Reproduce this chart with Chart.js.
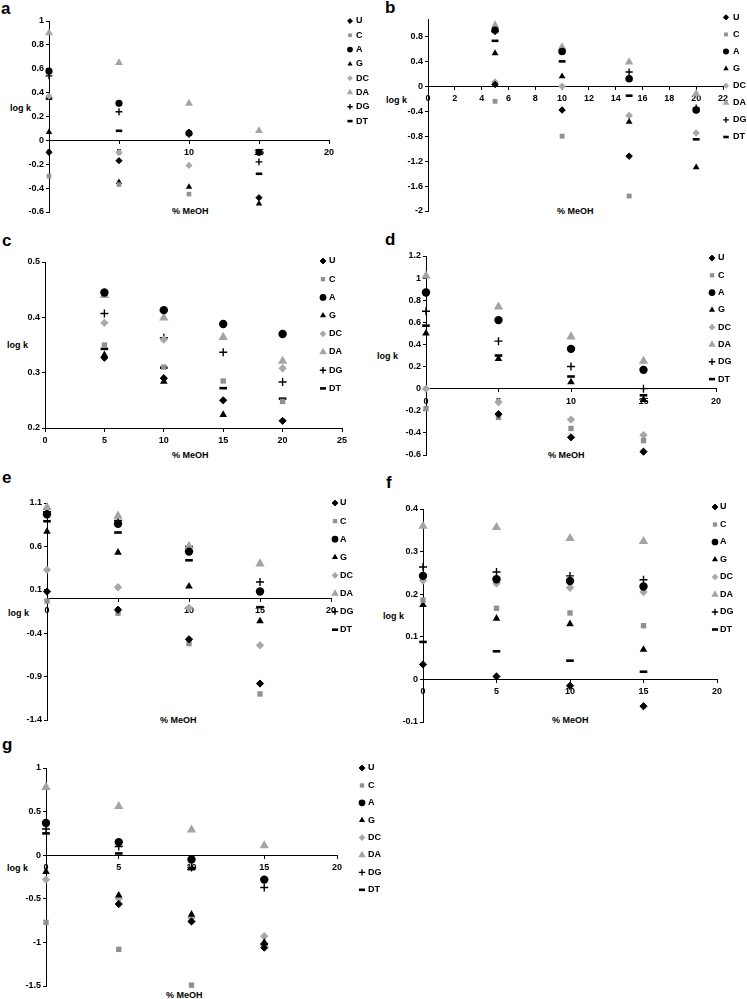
<!DOCTYPE html>
<html>
<head>
<meta charset="utf-8">
<script src="https://cdn.jsdelivr.net/npm/chart.js@4.4.1/dist/chart.umd.min.js"></script>
<style>
  body { margin: 0; width: 747px; height: 999px; background: #fff; position: relative; overflow: hidden;
         font-family: "Liberation Sans", Arial, sans-serif; }
  canvas { position: absolute; }
  .t { position: absolute; font-weight: bold; font-size: 9px; line-height: 1; color: #000; white-space: nowrap; }
  .p { position: absolute; font-weight: bold; font-size: 17px; line-height: 1; color: #000; }
</style>
</head>
<body>

<div class="p" style="left:1px;top:0px">a</div>
<div class="p" style="left:385px;top:-1px">b</div>
<div class="p" style="left:2px;top:232px">c</div>
<div class="p" style="left:385px;top:231px">d</div>
<div class="p" style="left:2px;top:469px">e</div>
<div class="p" style="left:386px;top:474px">f</div>
<div class="p" style="left:2px;top:736px">g</div>

<div class="t" style="left:10px;top:104px">log k</div>
<div class="t" style="left:172px;top:207px">% MeOH</div>
<div class="t" style="left:386px;top:96px">log k</div>
<div class="t" style="left:557px;top:207px">% MeOH</div>
<div class="t" style="left:7px;top:341px">log k</div>
<div class="t" style="left:172px;top:451px">% MeOH</div>
<div class="t" style="left:377px;top:352px">log k</div>
<div class="t" style="left:548px;top:451px">% MeOH</div>
<div class="t" style="left:8px;top:609px">log k</div>
<div class="t" style="left:160px;top:716px">% MeOH</div>
<div class="t" style="left:383px;top:612px">log k</div>
<div class="t" style="left:552px;top:716px">% MeOH</div>
<div class="t" style="left:7px;top:864px">log k</div>
<div class="t" style="left:166px;top:991px">% MeOH</div>

<canvas id="chartA"></canvas>
<canvas id="chartB"></canvas>
<canvas id="chartC"></canvas>
<canvas id="chartD"></canvas>
<canvas id="chartE"></canvas>
<canvas id="chartF"></canvas>
<canvas id="chartG"></canvas>

<script>
// series order in every panel
const seriesNames = ["U", "C", "A", "G", "DC", "DA", "DG", "DT"];

// % MeOH levels
const meohFrom0 = [0, 5, 10, 15];
const meohFrom5 = [5, 10, 15, 20];

// log k values, one row per series (U, C, A, G, DC, DA, DG, DT)
const logkA = [
  [-0.1, -0.17, 0.07, -0.48],
  [-0.3, -0.37, -0.45, null],
  [0.58, 0.31, 0.06, -0.1],
  [0.07, -0.35, -0.39, -0.53],
  [0.37, -0.1, -0.21, -0.1],
  [0.9, 0.65, 0.31, 0.08],
  [0.54, 0.24, 0.05, -0.18],
  [0.35, 0.08, null, -0.28]
];
const logkB = [
  [0.03, -0.38, -1.12, -0.38],
  [-0.24, -0.8, -1.76, null],
  [0.9, 0.56, 0.12, -0.38],
  [0.53, 0.16, -0.57, -1.3],
  [0.07, 0.0, -0.47, -0.75],
  [0.98, 0.63, 0.39, -0.12],
  [0.88, 0.58, 0.23, -0.35],
  [0.73, 0.4, -0.15, -0.85]
];
const logkC = [
  [0.327, 0.29, 0.25, 0.213],
  [0.35, 0.31, 0.285, 0.248],
  [0.445, 0.413, 0.388, 0.37],
  [0.332, 0.284, 0.224, null],
  [0.39, 0.36, null, 0.308],
  [0.44, 0.399, 0.364, 0.321],
  [0.407, 0.363, 0.337, 0.283],
  [0.343, 0.309, 0.272, 0.253]
];
const logkD = [
  [null, -0.23, -0.44, -0.57],
  [-0.18, -0.26, -0.36, -0.47],
  [0.87, 0.62, 0.36, 0.17],
  [0.5, 0.27, 0.06, -0.1],
  [0.0, -0.12, -0.28, -0.42],
  [1.02, 0.74, 0.47, 0.25],
  [0.7, 0.43, 0.2, 0.0],
  [0.57, 0.3, 0.11, -0.06]
];
const logkE = [
  [0.08, -0.13, -0.47, -0.98],
  [-0.03, -0.17, -0.52, -1.1],
  [0.97, 0.86, 0.54, 0.08],
  [0.77, 0.53, 0.14, -0.26],
  [0.33, 0.13, -0.11, -0.54],
  [1.05, 0.95, 0.6, 0.4],
  [1.0, 0.9, 0.6, 0.19],
  [0.89, 0.76, 0.44, -0.1]
];
const logkF = [
  [0.035, 0.007, -0.015, -0.063],
  [0.186, 0.167, 0.156, 0.126],
  [0.243, 0.235, 0.231, 0.218],
  [0.175, 0.143, 0.13, 0.07],
  [0.232, 0.225, 0.215, 0.205],
  [0.36, 0.357, 0.331, 0.324],
  [0.264, 0.252, 0.243, 0.234],
  [0.088, 0.066, 0.044, 0.018]
];
const logkG = [
  [null, -0.56, -0.76, -1.06],
  [-0.77, -1.08, -1.49, null],
  [0.37, 0.15, -0.05, -0.28],
  [-0.19, -0.46, -0.68, -1.0],
  [-0.28, -0.5, -0.72, -0.93],
  [0.78, 0.56, 0.29, 0.11],
  [0.3, 0.1, -0.14, -0.37],
  [0.25, 0.02, -0.16, -1.02]
];

// tick labels
const xTicks20 = [0, 5, 10, 15, 20];
const xTicksB = [0, 2, 4, 6, 8, 10, 12, 14, 16, 18, 20, 22];
const xTicksC = [0, 5, 10, 15, 20, 25];
const yTicksA = [-0.6, -0.4, -0.2, 0, 0.2, 0.4, 0.6, 0.8, 1];
const yTicksB = [-2, -1.6, -1.2, -0.8, -0.4, 0, 0.4, 0.8];
const yTicksC = [0.2, 0.3, 0.4, 0.5];
const yTicksD = [-0.6, -0.4, -0.2, 0, 0.2, 0.4, 0.6, 0.8, 1, 1.2];
const yTicksE = [-1.4, -0.9, -0.4, 0.1, 0.6, 1.1];
const yTicksF = [-0.1, 0, 0.1, 0.2, 0.3, 0.4];
const yTicksG = [-1.5, -1, -0.5, 0, 0.5, 1];

// marker look per series
const markerStyles = [
  { shape: "rectRot", r: 3.6, color: "#000", bw: 1 },
  { shape: "rect", r: 3.8, color: "#909090", bw: 0 },
  { shape: "circle", r: 4.2, color: "#000", bw: 0 },
  { shape: "triangle", r: 4.4, color: "#000", bw: 0 },
  { shape: "rectRot", r: 4.2, color: "#a8a8a8", bw: 0 },
  { shape: "triangle", r: 5.4, color: "#a4a4a4", bw: 0 },
  { shape: "cross", r: 4, color: "#000", bw: 1.4 },
  { shape: "line", r: 3.8, color: "#000", bw: 2.6 }
];

const FONT = { family: '"Liberation Sans", Arial, sans-serif', size: 9, weight: "bold" };
const YW = 36;

function sideLegend(box, lg, scale) {
  return {
    id: "sideLegend",
    afterDraw(chart) {
      const ctx = chart.ctx;
      ctx.save();
      ctx.font = 'bold 9px "Liberation Sans", Arial, sans-serif';
      ctx.textBaseline = "middle";
      chart.data.datasets.forEach((ds, i) => {
        const y = lg.y + i * lg.dy - box.y;
        const x = lg.x - box.x;
        ctx.fillStyle = ds.pointBackgroundColor;
        ctx.strokeStyle = ds.pointBorderColor;
        ctx.lineWidth = ds.pointBorderWidth;
        Chart.helpers.drawPoint(ctx, {
          pointStyle: ds.pointStyle, rotation: 0,
          radius: ds.pointRadius * 0.8, borderWidth: ds.pointBorderWidth
        }, x, y);
        ctx.fillStyle = "#000";
        ctx.fillText(ds.label, lg.tx - box.x, y);
      });
      ctx.restore();
    }
  };
}

function makePanel(id, xs, rows, xTicks, yTicks, xr, yr, crossY, box, area, lg, scale) {
  const canvas = document.getElementById(id);
  canvas.width = box.w;
  canvas.height = box.h;
  canvas.style.left = box.x + "px";
  canvas.style.top = box.y + "px";

  const datasets = rows.map((vals, i) => {
    const st = markerStyles[i];
    return {
      label: seriesNames[i],
      data: xs.map((x, j) => (vals[j] == null ? null : { x: x, y: vals[j] })).filter(Boolean),
      pointStyle: st.shape,
      pointRadius: st.r * scale,
      pointHoverRadius: st.r * scale,
      pointBackgroundColor: st.color,
      pointBorderColor: st.color,
      pointBorderWidth: st.bw,
      showLine: false,
      clip: false
    };
  });

  const axisCommon = {
    type: "linear",
    grid: { display: true, drawOnChartArea: false, drawTicks: true, tickLength: 3, color: "#000" },
    border: { display: true, color: "#000", width: 1 },
    ticks: { font: FONT, color: "#000", autoSkip: false, maxRotation: 0, callback: (v) => String(v) }
  };

  return new Chart(canvas, {
    type: "scatter",
    data: { datasets: datasets },
    options: {
      responsive: false,
      animation: false,
      layout: {
        padding: {
          left: area.l - box.x - YW,
          top: area.t - box.y,
          right: box.x + box.w - area.r,
          bottom: box.y + box.h - area.b
        }
      },
      plugins: { legend: { display: false }, tooltip: { enabled: false } },
      scales: {
        x: Object.assign({}, axisCommon, {
          min: xr[0], max: xr[1],
          position: { y: crossY },
          afterBuildTicks: (s) => { s.ticks = xTicks.map((v) => ({ value: v })); },
          ticks: Object.assign({}, axisCommon.ticks, { padding: 4 })
        }),
        y: Object.assign({}, axisCommon, {
          min: yr[0], max: yr[1],
          position: "left",
          afterBuildTicks: (s) => { s.ticks = yTicks.map((v) => ({ value: v })); },
          afterFit: (s) => { s.width = YW; },
          ticks: Object.assign({}, axisCommon.ticks, { padding: 2 })
        })
      }
    },
    plugins: [sideLegend(box, lg, scale)]
  });
}

makePanel("chartA", meohFrom0, logkA, xTicks20, yTicksA, [0, 20], [-0.6, 1], 0,
  { x: 0, y: 0, w: 373, h: 232 }, { l: 49, t: 21, r: 329, b: 212 },
  { x: 350, tx: 356, y: 21, dy: 14.3 }, 0.85);

makePanel("chartB", meohFrom5, logkB, xTicksB, yTicksB, [0, 22], [-2, 1.08], 0,
  { x: 373, y: 0, w: 374, h: 232 }, { l: 428, t: 19, r: 723, b: 211 },
  { x: 726, tx: 733, y: 17.3, dy: 17.1 }, 0.9);

makePanel("chartC", meohFrom5, logkC, xTicksC, yTicksC, [0, 25], [0.2, 0.5], 0.2,
  { x: 0, y: 232, w: 373, h: 236 }, { l: 45, t: 262, r: 342, b: 428 },
  { x: 323, tx: 329, y: 261, dy: 18.2 }, 1);

makePanel("chartD", meohFrom0, logkD, xTicks20, yTicksD, [0, 20], [-0.6, 1.2], 0,
  { x: 373, y: 232, w: 374, h: 236 }, { l: 426, t: 256, r: 716, b: 455 },
  { x: 712, tx: 718, y: 258, dy: 17.3 }, 1);

makePanel("chartE", meohFrom0, logkE, xTicks20, yTicksE, [0, 20], [-1.4, 1.1], 0,
  { x: 0, y: 468, w: 373, h: 262 }, { l: 47, t: 503, r: 331, b: 720 },
  { x: 335, tx: 340, y: 503, dy: 18.1 }, 1);

makePanel("chartF", meohFrom0, logkF, xTicks20, yTicksF, [0, 20], [-0.1, 0.4], 0,
  { x: 373, y: 468, w: 374, h: 262 }, { l: 423, t: 509, r: 717, b: 722 },
  { x: 715, tx: 720, y: 507, dy: 17.5 }, 1);

makePanel("chartG", meohFrom0, logkG, xTicks20, yTicksG, [0, 20], [-1.5, 1], 0,
  { x: 0, y: 730, w: 400, h: 269 }, { l: 46, t: 768, r: 337, b: 986 },
  { x: 362, tx: 368, y: 768, dy: 17.4 }, 1);
</script>
</body>
</html>
